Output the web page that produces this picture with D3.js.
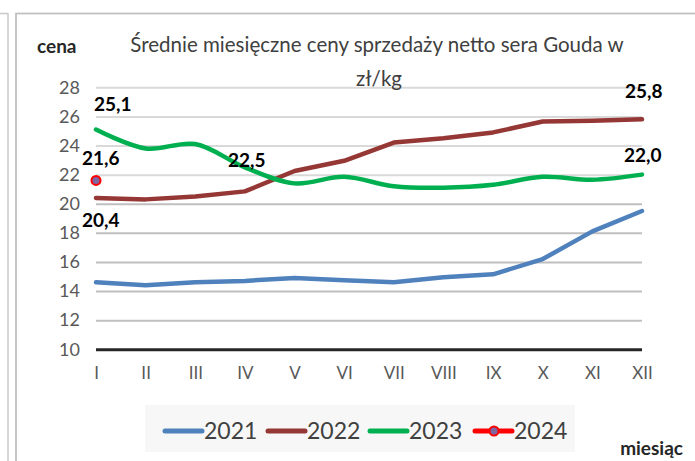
<!DOCTYPE html>
<html><head><meta charset="utf-8">
<script src="https://cdn.jsdelivr.net/npm/d3@7"></script>
<style>
html,body{margin:0;padding:0;background:#fff;}
svg{display:block;}
text{font-family:Lato,"Open Sans",sans-serif;}
</style></head>
<body><svg id="c" width="695" height="461"></svg>
<script>
const months = ["I","II","III","IV","V","VI","VII","VIII","IX","X","XI","XII"];
const yTicks = [10,12,14,16,18,20,22,24,26,28];
const v2021 = [14.6,14.4,14.6,14.7,14.9,14.75,14.6,14.95,15.15,16.2,18.1,19.5];
const v2022 = [20.4,20.3,20.5,20.85,22.25,22.95,24.2,24.5,24.9,25.65,25.7,25.8];
const v2023 = [25.1,23.8,24.1,22.5,21.4,21.85,21.2,21.1,21.3,21.85,21.65,22.0];
const v2024 = [21.6];
const seriesNames = ["2021","2022","2023","2024"];
const seriesColors = ["#4f81bd","#953735","#00b050","#ff0000"];
const dataLabels = [
  {s:2, i:0, text:"25,1", dx:-2, dy:-25},
  {s:3, i:0, text:"21,6", dx:-14, dy:-22},
  {s:1, i:0, text:"20,4", dx:-14, dy:22},
  {s:2, i:3, text:"22,5", dx:-17, dy:-7},
  {s:1, i:11, text:"25,8", dx:-17, dy:-28},
  {s:2, i:11, text:"22,0", dx:-18, dy:-19}
];
const allSeries = [v2021, v2022, v2023, v2024];

const svg = d3.select("#c");
// frame lines
svg.append("line").attr("x1",0).attr("x2",8).attr("y1",13.5).attr("y2",13.5).attr("stroke","#c8c8c8").attr("stroke-width",1.5);
svg.append("line").attr("x1",8).attr("x2",8).attr("y1",13).attr("y2",461).attr("stroke","#c8c8c8").attr("stroke-width",1.5);
svg.append("rect").attr("x",16).attr("y",13.5).attr("width",690).attr("height",460)
  .attr("fill","#fff").attr("stroke","#c0c0c0").attr("stroke-width",1.8);

const x = d3.scalePoint().domain(months).range([96, 642]);
const y = d3.scaleLinear().domain([10, 28]).range([349.3, 87.3]);

// gridlines
const yAxis = d3.axisLeft(y).tickValues(yTicks).tickSize(-(642-96)).tickPadding(16).tickFormat(d3.format("d"));
const gy = svg.append("g").attr("transform","translate(96,0)").call(yAxis);
gy.select(".domain").remove();
gy.selectAll(".tick line").attr("stroke", d => d===10 ? "#262626" : (d<=20 ? "#bfbfbf" : "#d9d9d9"))
  .attr("stroke-width", d => d===10 ? 3 : 2);
gy.selectAll(".tick text").attr("fill","#595959").style("font-size","18px").attr("dy","0.32em");

const xAxis = d3.axisBottom(x).tickSize(0).tickPadding(0);
const gx = svg.append("g").attr("transform","translate(0,367)").call(xAxis);
gx.select(".domain").remove();
gx.selectAll(".tick text").attr("fill","#595959").style("font-size","17px").attr("dy","0.71em");

// lines
const curves = [d3.curveLinear, d3.curveLinear, d3.curveCatmullRom.alpha(0.5), d3.curveLinear];
[0,1,2].forEach(s => {
  const line = d3.line().x((d,i)=>x(months[i])).y(d=>y(d)).curve(curves[s]);
  svg.append("path").datum(allSeries[s]).attr("d", line).attr("fill","none")
    .attr("stroke", seriesColors[s]).attr("stroke-width",4.5).attr("stroke-linejoin","round").attr("stroke-linecap","round");
});
// 2024 point
svg.selectAll("circle.p24").data(v2024).enter().append("circle")
  .attr("cx",(d,i)=>x(months[i])).attr("cy",d=>y(d)).attr("r",4.5)
  .attr("fill","#8064a2").attr("stroke","#ff0000").attr("stroke-width",2);

// data labels
dataLabels.forEach(l => {
  svg.append("text").attr("x", x(months[l.i]) + l.dx).attr("y", y(allSeries[l.s][l.i]) + l.dy)
    .attr("dy","0.35em").attr("font-weight","bold").style("font-size","19px").attr("fill","#000").text(l.text);
});

// title
svg.append("text").attr("x",377).attr("y",52).attr("text-anchor","middle").attr("fill","#404040")
  .style("font-size","20.5px").text("Średnie miesięczne ceny sprzedaży netto sera Gouda w");
svg.append("text").attr("x",379).attr("y",86).attr("text-anchor","middle").attr("fill","#404040")
  .style("font-size","20.5px").text("zł/kg");
svg.append("text").attr("x",37).attr("y",53).attr("font-weight","bold").attr("fill","#262626").style("font-size","19px").text("cena");
svg.append("text").attr("x",683).attr("y",455).attr("text-anchor","end").attr("font-weight","bold").attr("fill","#262626").style("font-size","19px").text("miesiąc");

// legend
const leg = svg.append("g");
leg.append("rect").attr("x",145).attr("y",405).attr("width",430).attr("height",47).attr("fill","#f7f7f7");
const legX = [165, 268, 370, 475];
seriesNames.forEach((n,k) => {
  const g = leg.append("g").attr("transform",`translate(${legX[k]},431)`);
  g.append("line").attr("x1",0).attr("x2",37).attr("y1",0).attr("y2",0).attr("stroke",seriesColors[k]).attr("stroke-width",5).attr("stroke-linecap","round");
  if (k===3) g.append("circle").attr("cx",19).attr("cy",0).attr("r",4.5).attr("fill","#8064a2").attr("stroke","#ff0000").attr("stroke-width",2);
  g.append("text").attr("x",39).attr("y",0).attr("dy","0.35em").attr("fill","#404040").style("font-size","23px").text(n);
});
</script></body></html>
